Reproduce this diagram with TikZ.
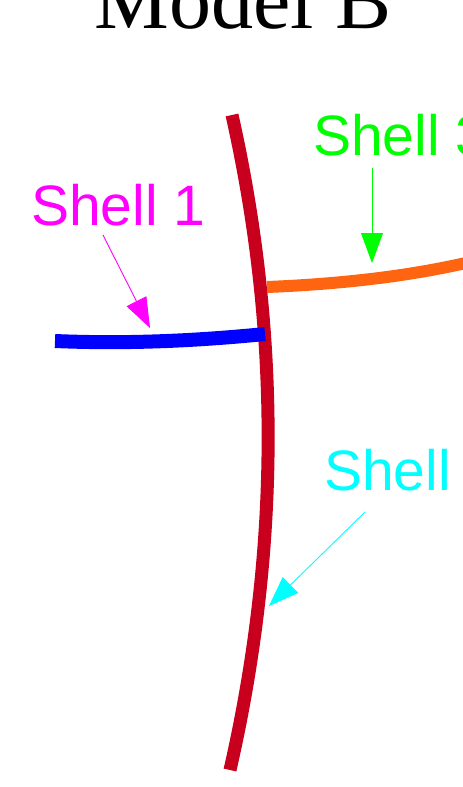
\documentclass[tikz,border=0pt]{standalone}
\usepackage{fontspec}
\setmainfont{Liberation Serif}
\newfontfamily\labelfont{Liberation Sans}
\usetikzlibrary{arrows.meta}
\definecolor{shellred}{RGB}{200,0,30}
\definecolor{shellorange}{RGB}{255,100,16}
\definecolor{shellblue}{RGB}{0,0,255}
\definecolor{shellmagenta}{RGB}{255,0,255}
\definecolor{shellgreen}{RGB}{0,255,0}
\definecolor{shellcyan}{RGB}{0,255,255}
\begin{document}
\begin{tikzpicture}[x=1pt,y=-1pt,
  lbl/.style={anchor=base west,inner sep=0pt,font=\labelfont\fontsize{57}{60}\selectfont},
  shellline/.style={line width=13pt},
  pointer/.style={line width=0.9pt,-{Triangle[length=30pt,width=22pt]}}]
\useasboundingbox (0,0) rectangle (463,787);
\node[anchor=base,inner sep=0pt,font=\fontsize{84}{90}\selectfont] (title) at (243,28) {Model B};
% shells
\coordinate (r1) at (232,115);
\coordinate (r2) at (230,770);
\draw[shellline,shellred] (r1) .. controls (281,333) and (280,551) .. (r2);
\coordinate (b1) at (55,341);
\coordinate (b2) at (265,334);
\draw[shellline,shellblue,line width=14pt] (b1) .. controls (125,344) and (195,341) .. (b2);
\coordinate (o1) at (267,287);
\coordinate (o2) at (470,262);
\draw[shellline,shellorange,line width=12pt] (o1) .. controls (342,284) and (410,276) .. (o2);
% labels
\node[lbl,text=shellmagenta] (s1) at (31,225) {Shell 1};
\node[lbl,text=shellgreen] (s3) at (313,155) {Shell 3};
\node[lbl,text=shellcyan] (s2) at (324,490) {Shell 2};
% arrows
\coordinate (a1s) at (103,235);
\coordinate (a1e) at (150,328);
\draw[pointer,shellmagenta] (a1s) -- (a1e);
\coordinate (a3s) at (372,168);
\coordinate (a3e) at (372,263);
\draw[pointer,shellgreen] (a3s) -- (a3e);
\coordinate (a2s) at (365,512);
\coordinate (a2e) at (269,606);
\draw[pointer,shellcyan] (a2s) -- (a2e);
\end{tikzpicture}
\end{document}
